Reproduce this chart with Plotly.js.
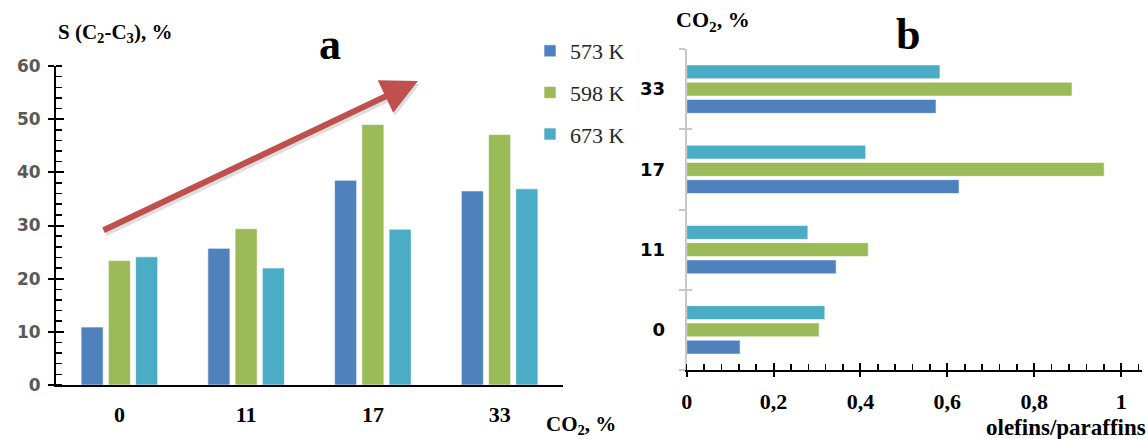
<!DOCTYPE html>
<html><head><meta charset="utf-8">
<script src="https://cdn.plot.ly/plotly-3.0.1.min.js"></script>
<style>body{margin:0;background:#fff}#chart{width:1148px;height:439px}</style>
</head><body><div id="chart"></div>
<script>
// Panel a: selectivity S(C2-C3), %
const co2Levels = ['0', '11', '17', '33'];
const sel573 = [10.9, 25.7, 38.5, 36.5];
const sel598 = [23.4, 29.4, 49.0, 47.1];
const sel673 = [24.1, 22.0, 29.3, 36.9];
// Panel b: olefins/paraffins ratio
const ratio573 = [0.123, 0.344, 0.627, 0.574];
const ratio598 = [0.305, 0.418, 0.961, 0.887];
const ratio673 = [0.318, 0.279, 0.412, 0.583];
const seriesNames = ['573 K', '598 K', '673 K'];
const xTickVals = [0, 0.2, 0.4, 0.6, 0.8, 1];
const xTickText = ['0', '0,2', '0,4', '0,6', '0,8', '1'];

const colors = ['#4f81bd', '#9bbb59', '#4bacc6'];
const W = 1148, H = 439;
const px = v => v / W, py = v => 1 - v / H;
const serif = 'Liberation Serif, Times New Roman, serif';
const sans = 'DejaVu Sans, Verdana, sans-serif';

const selData = [sel573, sel598, sel673];
const ratioData = [ratio573, ratio598, ratio673];
const traces = [];
selData.forEach((vals, i) => traces.push({
  type: 'bar', x: co2Levels, y: vals, name: seriesNames[i], xaxis: 'x', yaxis: 'y',
  marker: {color: colors[i], line: {color: 'rgba(255,255,255,0.6)', width: 1}},
  legendgroup: 'g' + i, hoverinfo: 'x+y'
}));
ratioData.forEach((vals, i) => traces.push({
  type: 'bar', orientation: 'h', y: co2Levels, x: vals, name: seriesNames[i], xaxis: 'x2', yaxis: 'y2',
  marker: {color: colors[i], line: {color: 'rgba(255,255,255,0.6)', width: 1}},
  showlegend: false
}));
// helper traces for overlay axes (crossing ticks)
traces.push({type: 'scatter', x: ['0'], y: [0], xaxis: 'x', yaxis: 'y3', mode: 'none', showlegend: false, hoverinfo: 'skip'});
traces.push({type: 'scatter', x: [0], y: ['0'], xaxis: 'x3', yaxis: 'y2', mode: 'none', showlegend: false, hoverinfo: 'skip'});
traces.push({type: 'scatter', x: [0], y: co2Levels.map(String), xaxis: 'x2', yaxis: 'y4', mode: 'none', showlegend: false, hoverinfo: 'skip'});

const leftDom = [px(56), px(563)];
const leftY = [py(385), py(66)];
const rightDom = [px(686.7), px(1142)];
const rightY = [py(370), py(49)];

const layout = {
  width: W, height: H, margin: {l: 0, r: 0, t: 0, b: 0},
  paper_bgcolor: '#fff', plot_bgcolor: 'rgba(0,0,0,0)',
  barmode: 'group', bargap: 0.355, bargroupgap: 0.19,
  showlegend: true,
  legend: {x: px(530), y: py(30), xanchor: 'left', yanchor: 'top', traceorder: 'grouped',
    tracegroupgap: 10, font: {family: serif, size: 22, color: '#262626'},
    bgcolor: 'rgba(0,0,0,0)', itemclick: false},
  xaxis: {domain: leftDom, anchor: 'y', type: 'category', showgrid: false, zeroline: false,
    showline: true, linecolor: '#000', linewidth: 2, ticks: '',
    tickfont: {family: serif, size: 22, color: '#000', weight: 'bold'}, ticklabelstandoff: 9},
  yaxis: {domain: leftY, anchor: 'x', range: [0, 60], dtick: 10, showgrid: false, zeroline: false,
    showline: true, linecolor: '#000', linewidth: 2, ticks: 'outside', ticklen: 6, tickwidth: 2, tickcolor: '#000',
    minor: {dtick: 2, ticks: 'inside', ticklen: 6, tickwidth: 1.5, tickcolor: '#000'},
    tickfont: {family: sans, size: 17, color: '#595959', weight: 'bold'}, ticklabelstandoff: 4},
  yaxis3: {overlaying: 'y', anchor: 'x', range: [0, 60], dtick: 10, showgrid: false, zeroline: false,
    showline: false, ticks: 'inside', ticklen: 8, tickwidth: 2, tickcolor: '#000', showticklabels: false},
  xaxis2: {domain: rightDom, anchor: 'y2', range: [0, 1.048], tickvals: xTickVals, ticktext: xTickText,
    showgrid: false, zeroline: false, showline: true, linecolor: '#000', linewidth: 2,
    ticks: 'outside', ticklen: 5, tickwidth: 2, tickcolor: '#000',
    minor: {dtick: 0.04, ticks: 'inside', ticklen: 6, tickwidth: 1.5, tickcolor: '#000'},
    tickfont: {family: serif, size: 22, color: '#000', weight: 'bold'}, ticklabelstandoff: 6},
  xaxis3: {overlaying: 'x2', anchor: 'y2', range: [0, 1.048], tickvals: xTickVals, showgrid: false, zeroline: false,
    showline: false, ticks: 'inside', ticklen: 7, tickwidth: 2, tickcolor: '#000', showticklabels: false},
  yaxis2: {domain: rightY, anchor: 'x2', type: 'category', categoryorder: 'array', categoryarray: co2Levels,
    showgrid: false, zeroline: false,
    showline: true, linecolor: '#c8c8c8', linewidth: 2, ticks: 'outside', tickson: 'boundaries',
    ticklen: 6, tickwidth: 2, tickcolor: '#c8c8c8',
    tickfont: {family: sans, size: 18, color: '#000', weight: 'bold'}, ticklabelstandoff: 16},
  yaxis4: {overlaying: 'y2', anchor: 'x2', type: 'category', categoryorder: 'array', categoryarray: co2Levels,
    showgrid: false, zeroline: false, showline: false, ticks: 'inside', tickson: 'boundaries',
    ticklen: 5, tickwidth: 2, tickcolor: '#c8c8c8', showticklabels: false},
  annotations: [
    {text: 'S (C<sub>2</sub>-C<sub>3</sub>), %', xref: 'paper', yref: 'paper', x: px(56), y: py(33),
      xanchor: 'left', yanchor: 'middle', showarrow: false, font: {family: serif, size: 21, color: '#000', weight: 'bold'}},
    {text: 'CO<sub>2</sub>, %', xref: 'paper', yref: 'paper', x: px(544), y: 0,
      xanchor: 'left', yanchor: 'bottom', yshift: -1, showarrow: false, font: {family: serif, size: 21, color: '#000', weight: 'bold'}},
    {text: 'a', xref: 'paper', yref: 'paper', x: px(330), y: py(44),
      xanchor: 'center', yanchor: 'middle', showarrow: false, font: {family: serif, size: 44, color: '#000', weight: 'bold'}},
    {text: 'b', xref: 'paper', yref: 'paper', x: px(908), y: py(34),
      xanchor: 'center', yanchor: 'middle', showarrow: false, font: {family: serif, size: 44, color: '#000', weight: 'bold'}},
    {text: 'CO<sub>2</sub>, %', xref: 'paper', yref: 'paper', x: px(674), y: py(21),
      xanchor: 'left', yanchor: 'middle', showarrow: false, font: {family: serif, size: 22, color: '#000', weight: 'bold'}},
    {text: 'olefins/paraffins', xref: 'paper', yref: 'paper', x: px(1148), y: py(427),
      xanchor: 'right', yanchor: 'middle', showarrow: false, font: {family: serif, size: 23, color: '#000', weight: 'bold'}},
    // trend arrow (shadow + arrow)
    {text: '', xref: 'paper', yref: 'paper', x: px(420), y: py(84), ax: px(104), ay: py(234),
      axref: 'paper', ayref: 'paper', showarrow: true, arrowhead: 2, arrowsize: 1.2, arrowwidth: 6,
      arrowcolor: 'rgba(0,0,0,0.12)'},
    {text: '', xref: 'paper', yref: 'paper', x: px(418), y: py(81), ax: px(102), ay: py(231),
      axref: 'paper', ayref: 'paper', showarrow: true, arrowhead: 2, arrowsize: 1.2, arrowwidth: 6,
      arrowcolor: '#c0504d'}
  ]
};
Plotly.newPlot('chart', traces, layout, {displayModeBar: false, staticPlot: true});
</script></body></html>
